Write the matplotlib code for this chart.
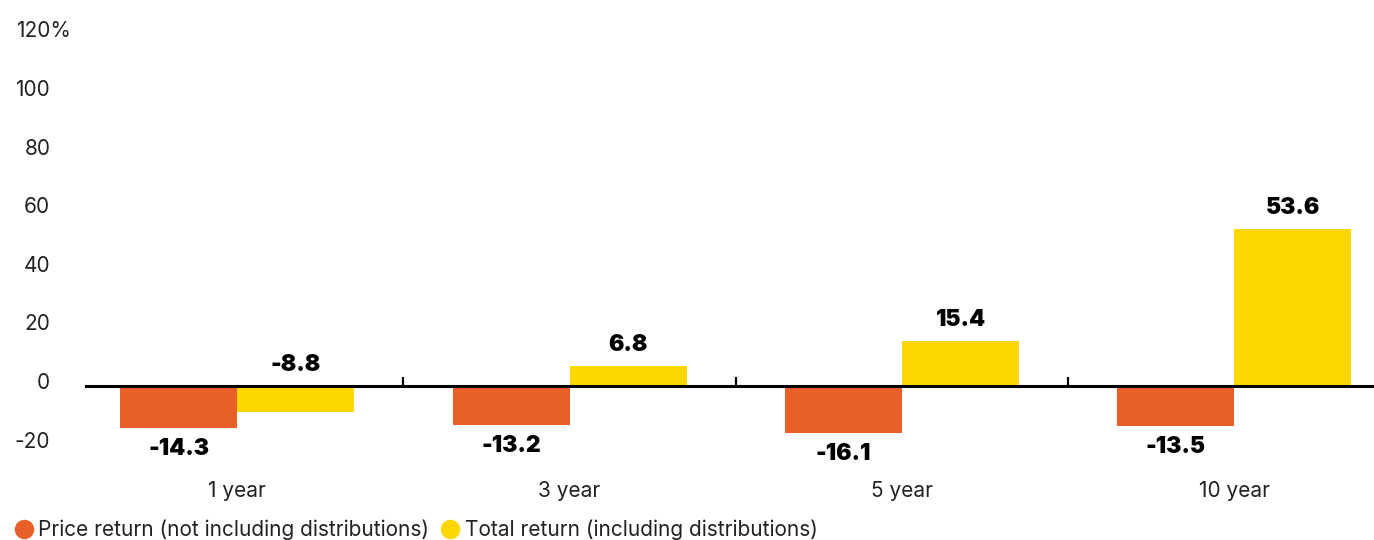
import matplotlib
matplotlib.use("Agg")
import matplotlib.pyplot as plt
from matplotlib.lines import Line2D
import matplotlib.transforms as mtransforms
import numpy as np

categories = ["1 year", "3 year", "5 year", "10 year"]
price_return = [-14.3, -13.2, -16.1, -13.5]
total_return = [-8.8, 6.8, 15.4, 53.6]
series_names = ["Price return (not including distributions)",
                "Total return (including distributions)"]
yticks = [-20, 0, 20, 40, 60, 80, 100, 120]
ytick_labels = ["-20", "0", "20", "40", "60", "80", "100", "120%"]

ORANGE = "#E95F2A"
YELLOW = "#FFD700"
plt.rcParams['font.family'] = ['Inter', 'DejaVu Sans']

fig = plt.figure(figsize=(13.74, 5.4), dpi=100)
ax = fig.add_axes([85/1374, 1-444.6/540, (1374-85)/1374, (444.6-34.4)/540])

x = np.arange(len(categories))
w = 0.352
ax.bar(x - w/2, price_return, w, color=ORANGE, zorder=2)
ax.bar(x + w/2, total_return, w, color=YELLOW, zorder=2)

ax.set_ylim(-20, 120)
ax.set_xlim(-0.458, len(categories) - 1 + 0.42)

for s in ax.spines.values():
    s.set_visible(False)
ax.axhline(0, color="black", lw=2.2, zorder=3)

# group separator ticks
for b in x[:-1] + 0.5:
    ax.plot([b, b], [0, 3], color="black", lw=1.6, zorder=3, solid_capstyle='butt')

ax.set_xticks([])
ax.set_yticks(yticks)
ax.set_yticklabels(ytick_labels, fontsize=15, color="#222222")
ax.tick_params(axis='y', length=0, pad=25)
for lab in ax.get_yticklabels():
    lab.set_horizontalalignment('right')
    dx = 21/100 if lab.get_text().endswith('%') else 0
    lab.set_transform(lab.get_transform() + mtransforms.ScaledTranslation(dx, 5/100, fig.dpi_scale_trans))

off = 7.2
for xi, v in zip(x - w/2, price_return):
    y = v - off if v < 0 else v + off
    ax.text(xi, y, f"{v:.1f}", ha="center", va="center", fontsize=16.5, fontweight="black", color="black")
for xi, v in zip(x + w/2, total_return):
    y = max(v, 0) + off
    ax.text(xi, y, f"{v:.1f}", ha="center", va="center", fontsize=16.5, fontweight="black", color="black")

for xi, c in zip(x, categories):
    ax.text(xi, -35.8, c, ha="center", va="center", fontsize=15, color="#222222")

handles = [Line2D([], [], marker='o', ls='none', color=ORANGE, markersize=13),
           Line2D([], [], marker='o', ls='none', color=YELLOW, markersize=13)]
fig.legend(handles, series_names, loc="lower left", bbox_to_anchor=(-0.004, -0.035),
           ncol=2, frameon=False, fontsize=15, handletextpad=0.2, columnspacing=0.5,
           handlelength=1.0, labelcolor="#222222")

fig.savefig("out.png", dpi=100)
